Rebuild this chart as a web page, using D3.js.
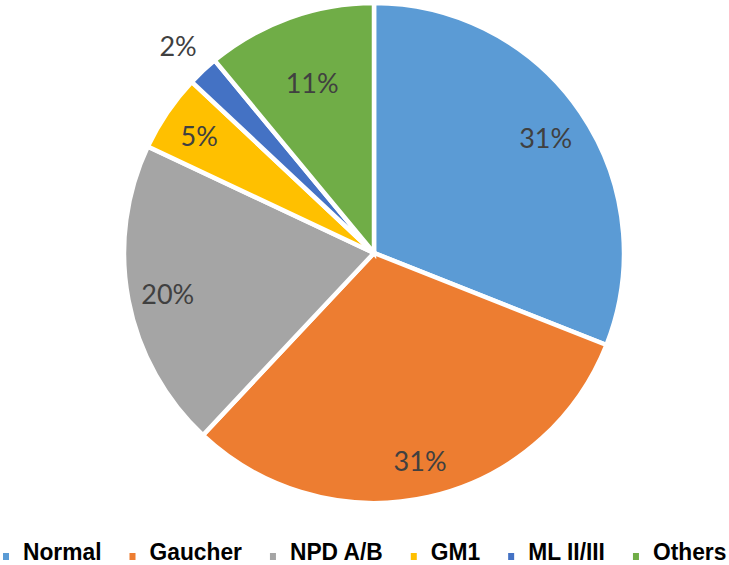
<!DOCTYPE html>
<html><head><meta charset="utf-8">
<script src="https://cdn.jsdelivr.net/npm/d3@7"></script>
<style>body{margin:0;background:#fff}</style>
</head><body>
<svg id="c" width="729" height="565"></svg>
<script>
const categories = ["Normal","Gaucher","NPD A/B","GM1","ML II/III","Others"];
const values = [31,31,20,5,2,11];
const colors = ["#5B9BD5","#ED7D31","#A5A5A5","#FFC000","#4472C4","#70AD47"];

// label placement (fraction of radius), a style setting
const labelRadius = [0.83,0.845,0.84,0.845,1.145,0.73];

const svg = d3.select("#c");
const cx = 374, cy = 253, R = 250;
const data = categories.map((c,i)=>({cat:c,val:values[i],col:colors[i],lr:labelRadius[i]}));
const pie = d3.pie().value(d=>d.val).sort(null);
const arcs = pie(data);
const arc = d3.arc().innerRadius(0).outerRadius(R);
const g = svg.append("g").attr("transform",`translate(${cx},${cy})`);
g.selectAll("path").data(arcs).join("path")
  .attr("d",arc).attr("fill",d=>d.data.col)
  .attr("stroke","#fff").attr("stroke-width",4.5).attr("stroke-linejoin","miter");

g.selectAll("text").data(arcs).join("text")
  .attr("transform",d=>{
    const r = R*d.data.lr;
    const p = d3.arc().innerRadius(r).outerRadius(r).centroid(d);
    return `translate(${p[0]},${p[1]+2})`;})
  .attr("text-anchor","middle").attr("dy","0.36em")
  .attr("font-family","Lato, 'Open Sans', sans-serif").attr("font-size",27)
  .attr("fill","#404040")
  .text(d=>d.data.val+"%");

// legend
const sx = 0.95;
const lg = svg.append("g").attr("transform","translate(0,560)");
let x = 3;
data.forEach(d=>{
  lg.append("rect").attr("x",x).attr("y",-7).attr("width",6).attr("height",7).attr("fill",d.col);
  const t = lg.append("text").attr("transform",`translate(${x+20},0) scale(${sx},1)`)
    .attr("font-family","'Liberation Sans', Arial, sans-serif").attr("font-weight","bold")
    .attr("font-size",24).attr("fill","#000").text(d.cat);
  x += 20 + t.node().getComputedTextLength()*sx + 28;
});
</script>
</body></html>
